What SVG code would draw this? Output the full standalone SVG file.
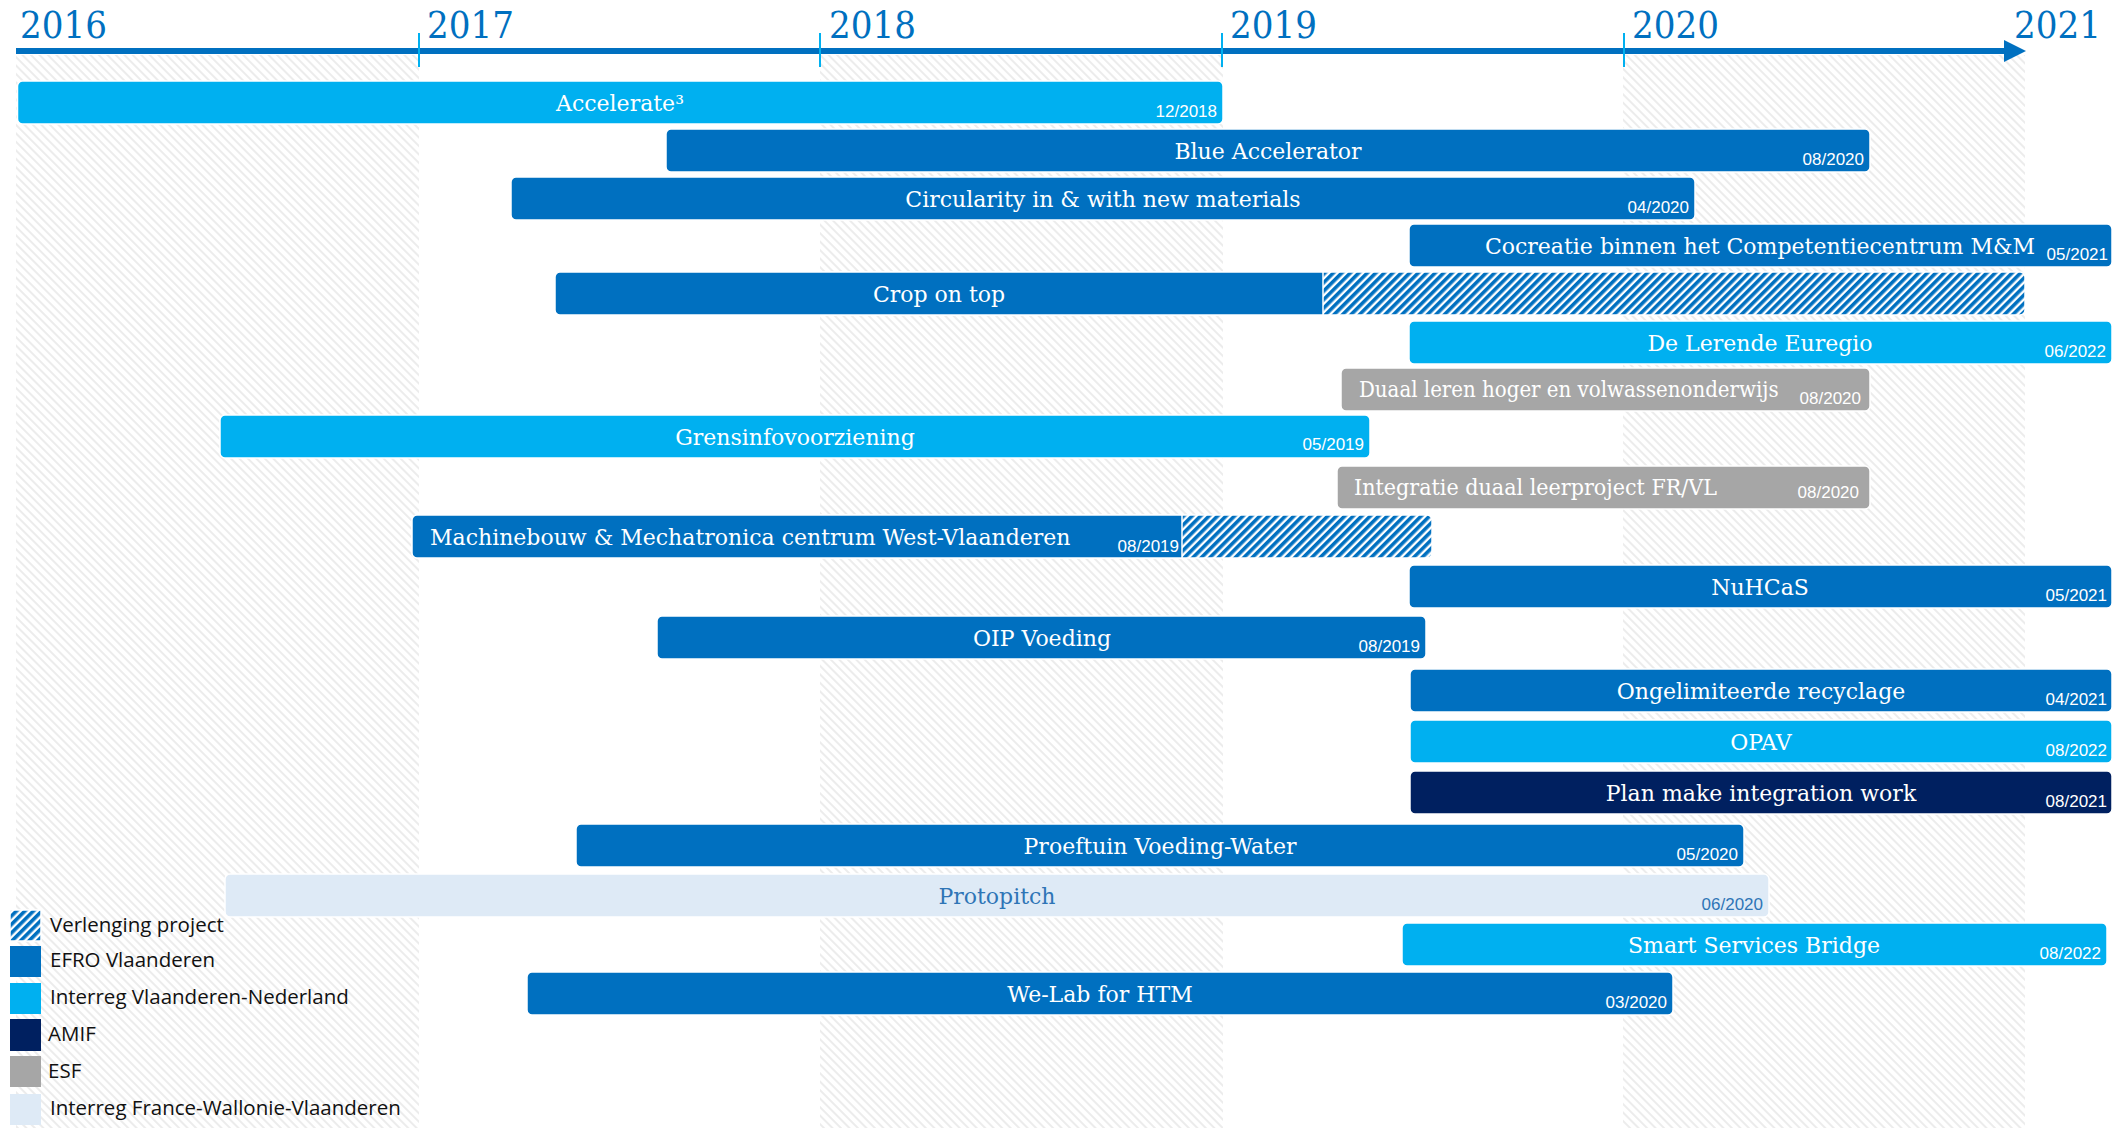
<svg xmlns="http://www.w3.org/2000/svg" width="2114" height="1128" viewBox="0 0 2114 1128">
<style>
.yr{font-family:'DejaVu Serif Condensed','DejaVu Serif',serif;font-stretch:condensed;font-size:38px;fill:#0070C0}
.lb{font-family:'DejaVu Serif',serif;font-size:22px;fill:#fff}
.cd{font-family:'DejaVu Serif Condensed','DejaVu Serif',serif;font-stretch:condensed}
.lc{text-anchor:middle}
.dt{font-family:'Liberation Sans',Arial,sans-serif;font-size:17px;fill:#fff;text-anchor:end}
.lg{font-family:'Open Sans','Liberation Sans',sans-serif;font-size:20.5px;fill:#111}
.efro{fill:#0070C0;stroke:#fff;stroke-width:1.5}
.ivn{fill:#00B0F0;stroke:#fff;stroke-width:1.5}
.amif{fill:#002060;stroke:#fff;stroke-width:1.5}
.esf{fill:#A6A6A6;stroke:#fff;stroke-width:1.5}
.ifwv{fill:#DEEAF6;stroke:#fff;stroke-width:1.5}
.ext{fill:url(#ext);stroke:#fff;stroke-width:1.5}
.tick{stroke:#00B0F0;stroke-width:2}
</style>
<defs>
<pattern id="bg" width="6" height="6" patternUnits="userSpaceOnUse" patternTransform="rotate(-45)">
<rect width="6" height="6" fill="#fff"/><rect width="2" height="6" fill="#ececec"/>
</pattern>
<pattern id="ext" width="6" height="6" patternUnits="userSpaceOnUse" patternTransform="rotate(45)">
<rect width="6" height="6" fill="#fff"/><rect width="3.6" height="6" fill="#0070C0"/>
</pattern>
</defs>
<rect width="2114" height="1128" fill="#fff"/>
<g id="background">
<rect x="16" y="55" width="403" height="1073" fill="url(#bg)"/>
<rect x="820" y="55" width="403" height="1073" fill="url(#bg)"/>
<rect x="1623" y="55" width="402" height="1073" fill="url(#bg)"/>
</g>
<g id="axis">
<line x1="16" y1="51" x2="2008" y2="51" stroke="#0070C0" stroke-width="6"/>
<polygon points="2004,40 2026,51 2004,62" fill="#0070C0"/>
<line class="tick" x1="419" y1="33" x2="419" y2="67"/>
<line class="tick" x1="820" y1="33" x2="820" y2="67"/>
<line class="tick" x1="1222" y1="33" x2="1222" y2="67"/>
<line class="tick" x1="1624" y1="33" x2="1624" y2="67"/>
<text class="yr" x="20" y="38">2016</text>
<text class="yr" x="427" y="38">2017</text>
<text class="yr" x="829" y="38">2018</text>
<text class="yr" x="1230" y="38">2019</text>
<text class="yr" x="1632" y="38">2020</text>
<text class="yr" x="2014" y="38">2021</text>
</g>
<g id="connectors"></g>
<g id="accelerate"><rect class="ivn" x="17.5" y="81" width="1205.5" height="43" rx="5"/><text class="lb lc" x="620" y="111">Accelerate³</text><text class="dt" x="1217" y="117">12/2018</text></g>
<g id="blue-accelerator"><rect class="efro" x="666" y="129" width="1204" height="43" rx="5"/><text class="lb lc" x="1268" y="159">Blue Accelerator</text><text class="dt" x="1864" y="165">08/2020</text></g>
<g id="circularity"><rect class="efro" x="511" y="177" width="1184" height="43" rx="5"/><text class="lb lc" x="1103" y="207">Circularity in &amp; with new materials</text><text class="dt" x="1689" y="213">04/2020</text></g>
<g id="cocreatie"><rect class="efro" x="1409" y="224" width="703" height="43" rx="5"/><text class="lb lc" x="1760" y="254">Cocreatie binnen het Competentiecentrum M&amp;M</text><text class="dt" x="2108" y="260">05/2021</text></g>
<g id="crop-on-top"><rect class="ext" x="555" y="272" width="1470" height="43" rx="5"/><path class="efro" d="M1323,272 H560 a5,5 0 0 0 -5,5 V310 a5,5 0 0 0 5,5 H1323 Z"/><text class="lb lc" x="939" y="302">Crop on top</text></g>
<g id="de-lerende-euregio"><rect class="ivn" x="1409" y="321" width="703" height="43" rx="5"/><text class="lb lc" x="1760" y="351">De Lerende Euregio</text><text class="dt" x="2106" y="357">06/2022</text></g>
<g id="duaal-leren"><rect class="esf" x="1341" y="368" width="529" height="43" rx="5"/><text class="lb cd" x="1359" y="397">Duaal leren hoger en volwassenonderwijs</text><text class="dt" x="1861" y="404">08/2020</text></g>
<g id="grensinfovoorziening"><rect class="ivn" x="220" y="415" width="1150" height="43" rx="5"/><text class="lb lc" x="795" y="445">Grensinfovoorziening</text><text class="dt" x="1364" y="450">05/2019</text></g>
<g id="integratie"><rect class="esf" x="1337" y="466" width="533" height="43" rx="5"/><text class="lb cd" x="1354" y="495" style="font-size:23px">Integratie duaal leerproject FR/VL</text><text class="dt" x="1859" y="498">08/2020</text></g>
<g id="machinebouw"><rect class="ext" x="412" y="515" width="1020" height="43" rx="5"/><path class="efro" d="M1182,515 H417 a5,5 0 0 0 -5,5 V553 a5,5 0 0 0 5,5 H1182 Z"/><text class="lb" x="430" y="545">Machinebouw &amp; Mechatronica centrum West-Vlaanderen</text><text class="dt" x="1179" y="552">08/2019</text></g>
<g id="nuhcas"><rect class="efro" x="1409" y="565" width="703" height="43" rx="5"/><text class="lb lc" x="1760" y="595">NuHCaS</text><text class="dt" x="2107" y="601">05/2021</text></g>
<g id="oip-voeding"><rect class="efro" x="657" y="616" width="769" height="43" rx="5"/><text class="lb lc" x="1042" y="646">OIP Voeding</text><text class="dt" x="1420" y="652">08/2019</text></g>
<g id="ongelimiteerde-recyclage"><rect class="efro" x="1410" y="669" width="702" height="43" rx="5"/><text class="lb lc" x="1761" y="699">Ongelimiteerde recyclage</text><text class="dt" x="2107" y="705">04/2021</text></g>
<g id="opav"><rect class="ivn" x="1410" y="720" width="702" height="43" rx="5"/><text class="lb lc" x="1761" y="750">OPAV</text><text class="dt" x="2107" y="756">08/2022</text></g>
<g id="plan-make-integration-work"><rect class="amif" x="1410" y="771" width="702" height="43" rx="5"/><text class="lb lc" x="1761" y="801">Plan make integration work</text><text class="dt" x="2107" y="807">08/2021</text></g>
<g id="proeftuin"><rect class="efro" x="576" y="824" width="1168" height="43" rx="5"/><text class="lb lc" x="1160" y="854">Proeftuin Voeding-Water</text><text class="dt" x="1738" y="860">05/2020</text></g>
<g id="protopitch"><rect class="ifwv" x="225" y="874" width="1544" height="43" rx="5"/><text class="lb lc" x="997" y="904" style="fill:#2E75B6">Protopitch</text><text class="dt" x="1763" y="910" style="fill:#2E75B6">06/2020</text></g>
<g id="smart-services-bridge"><rect class="ivn" x="1402" y="923" width="705" height="43" rx="5"/><text class="lb lc" x="1754" y="953">Smart Services Bridge</text><text class="dt" x="2101" y="959">08/2022</text></g>
<g id="we-lab"><rect class="efro" x="527" y="972" width="1146" height="43" rx="5"/><text class="lb lc" x="1100" y="1002">We-Lab for HTM</text><text class="dt" x="1667" y="1008">03/2020</text></g>
<g id="legend">
<rect class="ext" x="10" y="910" width="31" height="31" stroke="none"/><text class="lg" x="50" y="932">Verlenging project</text>
<rect x="10" y="946" width="31" height="31" fill="#0070C0"/><text class="lg" x="50" y="967">EFRO Vlaanderen</text>
<rect x="10" y="983" width="31" height="31" fill="#00B0F0"/><text class="lg" x="50" y="1004">Interreg Vlaanderen-Nederland</text>
<rect x="10" y="1019" width="31" height="32" fill="#002060"/><text class="lg" x="48" y="1041">AMIF</text>
<rect x="10" y="1056" width="31" height="31" fill="#A6A6A6"/><text class="lg" x="48" y="1078">ESF</text>
<rect x="10" y="1094" width="31" height="31" fill="#DEEAF6"/><text class="lg" x="50" y="1115">Interreg France-Wallonie-Vlaanderen</text>
</g>
</svg>
